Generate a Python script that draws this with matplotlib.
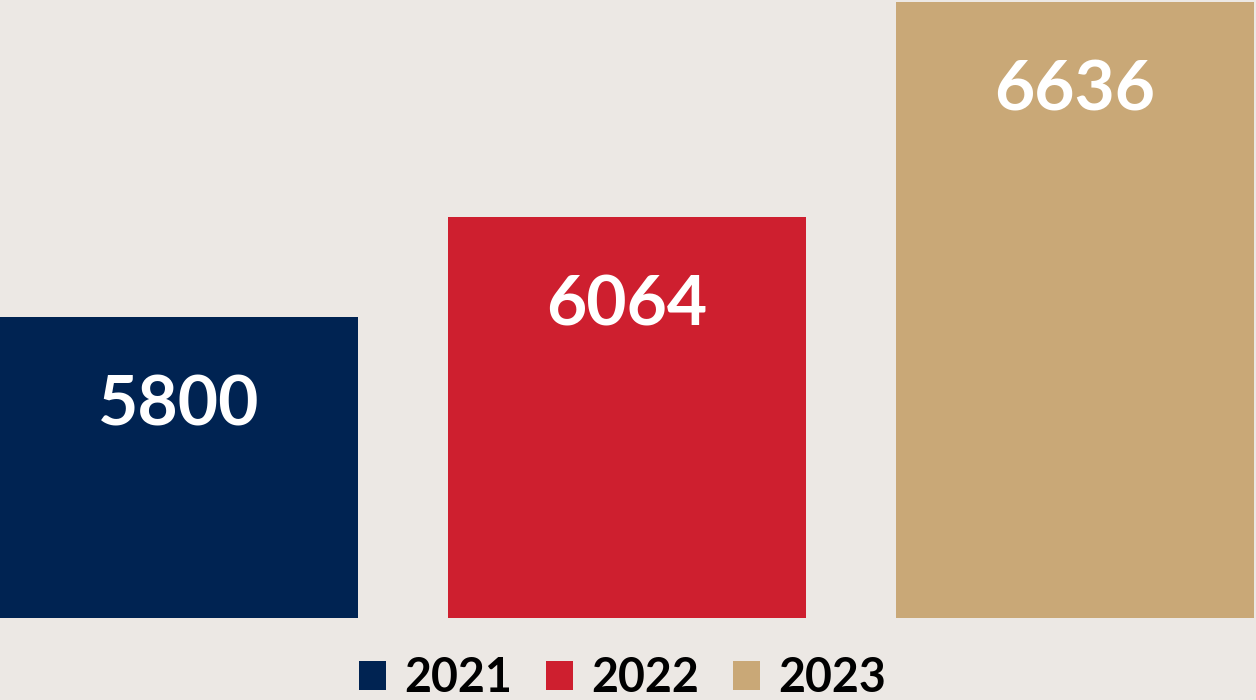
import matplotlib
matplotlib.use("Agg")
import matplotlib.pyplot as plt
from matplotlib.patches import Patch

years = ["2021", "2022", "2023"]
values = [5800, 6064, 6636]
colors = ["#002352", "#CE1F2F", "#C9A877"]

bg = "#ECE8E4"
fig = plt.figure(figsize=(12.56, 7.0), dpi=100, facecolor=bg)
ax = fig.add_axes([0.0, 0.1171, 1.0, 0.8829])
ax.set_facecolor(bg)

x = list(range(len(years)))
bars = ax.bar(x, values, width=0.8, color=colors)
ax.set_xlim(-0.4, 2.4045)
ax.set_ylim(5000, 6641)
for s in ax.spines.values():
    s.set_visible(False)
ax.set_xticks([])
ax.set_yticks([])

for xi, v in zip(x, values):
    ax.annotate(f"{v}", xy=(xi, v), xytext=(0, -78), textcoords="offset points",
                ha="center", va="baseline", color="white",
                fontsize=50, fontweight="bold", family="Lato")

handles = [Patch(facecolor=c, edgecolor="none") for c in colors]
leg = fig.legend(handles, years, loc="center", bbox_to_anchor=(0.4955, 0.031),
                 ncol=3, frameon=False,
                 prop={"family": "Lato", "weight": "bold", "size": 33.5},
                 handlelength=0.58, handleheight=0.58, handletextpad=0.4,
                 columnspacing=0.72, borderaxespad=0, borderpad=0)

fig.savefig("out.png", dpi=100, facecolor=bg)
